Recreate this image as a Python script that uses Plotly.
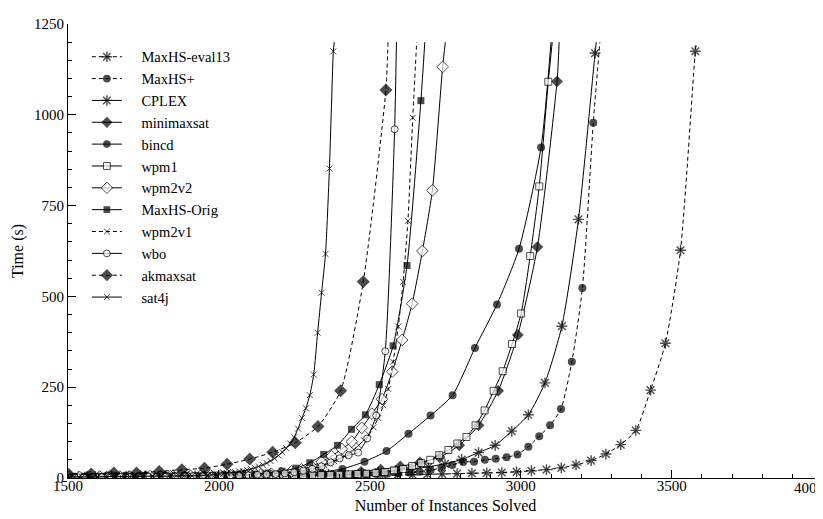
import plotly.graph_objects as go

FONT = "Liberation Serif, Times New Roman, Times, DejaVu Serif, serif"

# ---------------- data ----------------
x_tick_vals = [1500, 2000, 2500, 3000, 3500, 4000]
x_tick_text = ["1500", "2000", "2500", "3000", "3500", ""]
x_last_label = "4000"

maxhs_eval13_x = [1457, 1506, 1555, 1605, 1654, 1703, 1753, 1802, 1851, 1901, 1950, 1999, 2049, 2098, 2147, 2197,
                  2246, 2295, 2345, 2394, 2443, 2493, 2542, 2591, 2641, 2690, 2739, 2789, 2838, 2887, 2937,
                  2986, 3035, 3085, 3134, 3183, 3233, 3282, 3331, 3381, 3430, 3479, 3529, 3578, 3582]
maxhs_eval13_y = [2, 2, 2, 2, 3, 3, 3, 3, 4, 4, 4, 4, 5, 5, 5, 5, 6, 6, 6, 7, 7, 7, 8, 8, 9, 10, 11, 12, 13, 14, 15,
                  17, 20, 23, 28, 36, 48, 66, 92, 131, 242, 371, 627, 1175, 1200]

maxhs_plus_x = [1481, 1517, 1553, 1588, 1624, 1660, 1696, 1732, 1768, 1804, 1840, 1876, 1912, 1947, 1983, 2019,
                2055, 2091, 2127, 2163, 2199, 2235, 2271, 2306, 2342, 2378, 2414, 2450, 2486, 2522, 2558,
                2594, 2630, 2665, 2701, 2737, 2773, 2809, 2845, 2881, 2917, 2953, 2989, 3025, 3061, 3097,
                3133, 3169, 3204, 3240, 3262]
maxhs_plus_y = [3, 3, 3, 3, 4, 4, 4, 4, 4, 5, 5, 5, 5, 5, 6, 6, 6, 6, 7, 7, 7, 7, 8, 8, 8, 9, 9, 10, 10, 11, 12,
                13, 15, 17, 21, 28, 36, 44, 45, 50, 53, 57, 65, 86, 115, 145, 190, 320, 523, 978, 1200]

cplex_x = [1480, 1535, 1590, 1645, 1700, 1756, 1811, 1866, 1921, 1976, 2032, 2087, 2142, 2197, 2252, 2308,
           2363, 2418, 2473, 2528, 2584, 2639, 2694, 2749, 2804, 2860, 2915, 2970, 3025, 3080, 3136, 3191,
           3246, 3250]
cplex_y = [4, 4, 4, 5, 5, 5, 6, 6, 6, 7, 7, 7, 8, 8, 9, 9, 10, 11, 13, 16, 20, 25, 31, 39, 51, 70, 90, 129,
           174, 262, 418, 712, 1170, 1200]

minimaxsat_x = [1433, 1498, 1563, 1628, 1692, 1757, 1822, 1887, 1952, 2017, 2082, 2147, 2212, 2276, 2341,
                2406, 2471, 2536, 2601, 2666, 2731, 2796, 2860, 2925, 2990, 3055, 3120, 3127]
minimaxsat_y = [3, 3, 4, 4, 4, 5, 5, 5, 6, 6, 7, 7, 8, 9, 11, 13, 17, 23, 32, 43, 57, 90, 145, 240, 394, 636,
                1092, 1200]

bincd_x = [1458, 1531, 1604, 1677, 1750, 1824, 1897, 1970, 2043, 2116, 2189, 2263, 2336, 2409, 2482, 2555,
           2628, 2701, 2774, 2848, 2921, 2994, 3067, 3100]
bincd_y = [3, 3, 4, 4, 5, 5, 6, 6, 7, 8, 9, 11, 16, 25, 45, 74, 122, 172, 228, 358, 478, 631, 910, 1200]

wpm1_x = [1497, 1527, 1557, 1587, 1617, 1647, 1677, 1707, 1737, 1767, 1798, 1828, 1858, 1888, 1918, 1948,
          1978, 2008, 2038, 2068, 2098, 2128, 2158, 2189, 2219, 2249, 2279, 2309, 2339, 2369, 2399, 2429,
          2459, 2489, 2519, 2549, 2580, 2610, 2640, 2670, 2700, 2730, 2760, 2790, 2820, 2850, 2880, 2910,
          2940, 2971, 3001, 3031, 3061, 3091, 3104]
wpm1_y = [2, 2, 2, 2, 2, 3, 3, 3, 3, 3, 3, 3, 4, 4, 4, 4, 4, 4, 5, 5, 5, 5, 5, 6, 6, 6, 7, 7, 8, 8, 9, 10,
          11, 12, 14, 16, 21, 25, 33, 41, 50, 63, 77, 95, 113, 145, 186, 240, 294, 369, 453, 611, 803, 1091,
          1200]

wpm2v2_x = [1471, 1505, 1538, 1572, 1605, 1638, 1672, 1705, 1739, 1772, 1805, 1839, 1872, 1906, 1939, 1972,
            2006, 2039, 2073, 2106, 2139, 2173, 2206, 2240, 2273, 2306, 2340, 2373, 2407, 2440, 2473, 2507,
            2540, 2574, 2607, 2640, 2674, 2707, 2741, 2750]
wpm2v2_y = [3, 3, 3, 3, 4, 4, 4, 4, 5, 5, 5, 5, 6, 6, 6, 7, 7, 8, 8, 9, 10, 12, 14, 18, 24, 32, 44, 60, 80,
            100, 138, 177, 217, 293, 380, 480, 625, 792, 1132, 1200]

maxhs_orig_x = [1473, 1519, 1565, 1611, 1657, 1703, 1749, 1795, 1841, 1887, 1933, 1979, 2025, 2071, 2117,
                2163, 2209, 2255, 2301, 2347, 2393, 2439, 2485, 2531, 2577, 2623, 2669, 2682]
maxhs_orig_y = [3, 3, 3, 4, 4, 4, 5, 5, 5, 6, 6, 7, 8, 9, 11, 14, 19, 27, 42, 65, 90, 134, 174, 257, 364, 585,
                1039, 1200]

wpm2v1_x = [1486, 1519, 1551, 1584, 1617, 1649, 1682, 1714, 1747, 1780, 1812, 1845, 1877, 1910, 1943, 1975,
            2008, 2040, 2073, 2105, 2122, 2138, 2154, 2170, 2187, 2203, 2219, 2236, 2252, 2268, 2284, 2301,
            2317, 2333, 2349, 2366, 2382, 2398, 2415, 2431, 2447, 2463, 2480, 2496, 2512, 2528, 2545, 2561,
            2577, 2594, 2610, 2626, 2642, 2655]
wpm2v1_y = [3, 3, 3, 3, 4, 4, 4, 4, 4, 5, 5, 5, 5, 6, 6, 6, 7, 7, 8, 8, 9, 9, 10, 11, 12, 13, 14, 15, 17, 19,
            21, 24, 27, 31, 35, 40, 46, 52, 60, 68, 78, 90, 104, 120, 140, 165, 200, 245, 320, 417, 540, 708,
            992, 1200]

wbo_x = [1491, 1522, 1552, 1582, 1612, 1643, 1673, 1703, 1734, 1764, 1794, 1825, 1855, 1885, 1915, 1946,
         1976, 2006, 2037, 2067, 2097, 2127, 2158, 2188, 2218, 2249, 2279, 2309, 2340, 2370, 2400, 2430,
         2461, 2491, 2521, 2551, 2582, 2588]
wbo_y = [2, 2, 2, 2, 3, 3, 3, 3, 3, 4, 4, 4, 4, 5, 5, 5, 6, 6, 7, 7, 8, 9, 10, 11, 13, 16, 20, 25, 32, 43,
         54, 63, 70, 109, 172, 349, 960, 1200]

akmaxsat_x = [1427, 1502, 1577, 1652, 1727, 1802, 1877, 1952, 2027, 2102, 2178, 2253, 2328, 2403, 2478,
              2553, 2560]
akmaxsat_y = [9, 10, 11, 14, 14, 18, 23, 27, 38, 52, 71, 97, 142, 240, 540, 1068, 1200]

sat4j_x = [1495, 1521, 1547, 1573, 1599, 1625, 1651, 1677, 1703, 1729, 1755, 1781, 1807, 1833, 1859, 1885,
           1911, 1937, 1963, 1976, 1989, 2002, 2015, 2028, 2041, 2054, 2067, 2080, 2093, 2106, 2119, 2132,
           2145, 2158, 2171, 2184, 2197, 2210, 2223, 2236, 2249, 2262, 2275, 2288, 2301, 2314, 2327, 2340,
           2353, 2366, 2379, 2382]
sat4j_y = [3, 3, 3, 3, 3, 4, 4, 4, 4, 4, 5, 5, 5, 5, 6, 6, 6, 7, 8, 9, 10, 11, 12, 13, 14, 16, 18, 20, 22, 25,
           28, 32, 36, 41, 47, 54, 62, 71, 82, 95, 112, 136, 165, 192, 228, 285, 400, 510, 617, 852, 1175,
           1200]

names = ["MaxHS-eval13", "MaxHS+", "CPLEX", "minimaxsat", "bincd", "wpm1", "wpm2v2",
         "MaxHS-Orig", "wpm2v1", "wbo", "akmaxsat", "sat4j"]
xs = [maxhs_eval13_x, maxhs_plus_x, cplex_x, minimaxsat_x, bincd_x, wpm1_x, wpm2v2_x,
      maxhs_orig_x, wpm2v1_x, wbo_x, akmaxsat_x, sat4j_x]
ys = [maxhs_eval13_y, maxhs_plus_y, cplex_y, minimaxsat_y, bincd_y, wpm1_y, wpm2v2_y,
      maxhs_orig_y, wpm2v1_y, wbo_y, akmaxsat_y, sat4j_y]

# ---------------- styles ----------------
dashes = ["4px,3px", "4px,3px", "solid", "solid", "solid", "solid", "solid",
          "solid", "4px,3px", "solid", "4px,3px", "solid"]
symbols = ["asterisk-open", "circle", "asterisk-open", "diamond", "circle", "square", "diamond",
           "square", "x-thin-open", "circle", "diamond", "x-thin-open"]
fills = ["black", "black", "black", "black", "black", "white", "white",
         "black", "black", "white", "black", "black"]
sizes = [9, 8, 9, 9, 8, 7, 9, 7, 6, 7, 10, 6]
mlw = [1.4, 0, 1.4, 0, 0, 1, 1, 0, 1, 1, 0, 1]

fig = go.Figure()
for i in range(len(names)):
    n = len(xs[i])
    msize = [sizes[i]] * (n - 1) + [0]
    fig.add_trace(go.Scatter(
        x=xs[i], y=ys[i], name="\u00a0\u00a0\u00a0\u00a0" + names[i], mode="lines+markers",
        line=dict(color="black", width=1, dash=dashes[i], shape="spline", smoothing=0.6),
        marker=dict(symbol=symbols[i], size=msize, color=fills[i],
                    line=dict(color="black", width=mlw[i])),
    ))

axis_font = dict(family=FONT, size=15, color="black")
fig.update_layout(
    width=823, height=519,
    margin=dict(l=60, r=8, t=10, b=49),
    paper_bgcolor="white", plot_bgcolor="white",
    font=dict(family=FONT, size=16, color="black"),
    showlegend=True,
    legend=dict(x=0.025, y=0.963, xanchor="left", yanchor="top",
                bgcolor="rgba(0,0,0,0)", font=dict(family=FONT, size=14.5, color="black"),
                itemwidth=30, tracegroupgap=0),
    xaxis=dict(range=[1500, 4001], tickmode="array", tickvals=x_tick_vals, ticktext=x_tick_text,
               showgrid=False, zeroline=False, showline=True, linecolor="black", linewidth=1,
               ticks="inside", ticklen=8, tickcolor="black", tickfont=axis_font,
               ticklabelstandoff=-6,
               minor=dict(dtick=100, tick0=1500, ticks="inside", ticklen=4, tickcolor="black"),
               title=dict(text="Number of Instances Solved", font=dict(family=FONT, size=16), standoff=6)),
    yaxis=dict(range=[0, 1250], tickmode="linear", tick0=0, dtick=250,
               showgrid=False, zeroline=False, showline=True, linecolor="black", linewidth=1,
               ticks="inside", ticklen=8, tickcolor="black", tickfont=axis_font,
               minor=dict(dtick=50, ticks="inside", ticklen=4, tickcolor="black"),
               title=dict(text="Time (s)", font=dict(family=FONT, size=16), standoff=6)),
    annotations=[dict(x=x_tick_vals[-1], xref="x", y=0, yref="paper", yanchor="top", xanchor="right",
                      xshift=3, yshift=0, text=x_last_label, showarrow=False, font=axis_font)],
)

fig.write_html("out.html")
